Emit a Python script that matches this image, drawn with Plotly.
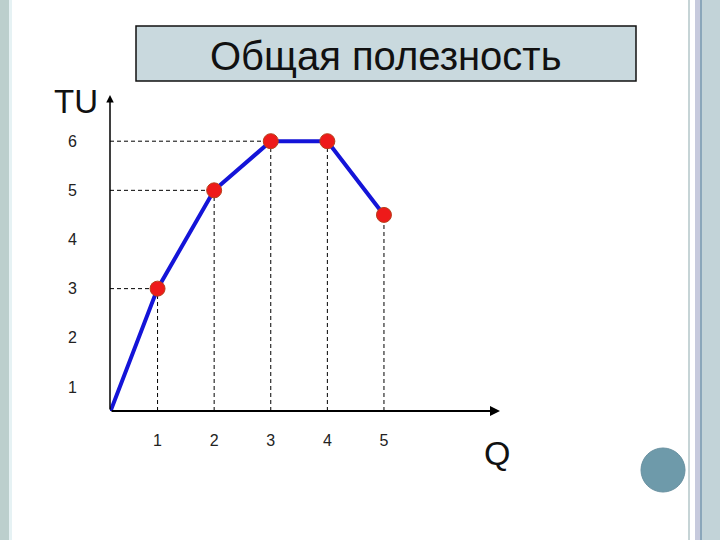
import plotly.graph_objects as go

# Data
quantity = [0, 1, 2, 3, 4, 5]
total_utility = [0, 3, 5, 6, 6, 4.5]
x_ticks = [1, 2, 3, 4, 5]
y_ticks = [1, 2, 3, 4, 5, 6]
guide_h_idx = [1, 2, 3]          # points with horizontal dashed guides
guide_v_idx = [1, 2, 3, 4, 5]    # points with vertical dashed guides
title_text = "Общая полезность"

W, H = 720, 540
L, R, T, B = 110, 500, 95, 411   # plot area in pixels
X_RANGE = [0.16, 7.05]
Y_RANGE = [0.51, 6.94]

def px(xp):
    return (xp - L) / (R - L)

def py(yp):
    return (B - yp) / (B - T)

FONT = "Arial, Liberation Sans, sans-serif"

fig = go.Figure()

# dashed guide lines
for i in guide_h_idx:
    fig.add_trace(go.Scatter(x=[X_RANGE[0], quantity[i]], y=[total_utility[i]] * 2,
                             mode="lines", line=dict(color="black", width=1, dash="4px,3px"),
                             hoverinfo="skip", showlegend=False))
for i in guide_v_idx:
    fig.add_trace(go.Scatter(x=[quantity[i]] * 2, y=[Y_RANGE[0], total_utility[i]],
                             mode="lines", line=dict(color="black", width=1, dash="4px,3px"),
                             hoverinfo="skip", showlegend=False))

# main line
fig.add_trace(go.Scatter(x=quantity, y=total_utility, mode="lines",
                         line=dict(color="#1414d8", width=4), showlegend=False))
# markers
fig.add_trace(go.Scatter(x=quantity[1:], y=total_utility[1:], mode="markers",
                         marker=dict(size=15, color="#ee1a1a",
                                     line=dict(color="#b8401a", width=1)),
                         cliponaxis=False, showlegend=False))

shapes = []
# title box
shapes.append(dict(type="rect", xref="paper", yref="paper",
                   x0=px(136), x1=px(636), y0=py(81), y1=py(26),
                   fillcolor="#c9d9de", line=dict(color="#111", width=1.5), layer="below"))
# left border stripes
shapes.append(dict(type="rect", xref="paper", yref="paper", x0=px(0), x1=px(9), y0=py(540), y1=py(0),
                   fillcolor="#bccfcd", line=dict(width=0), layer="below"))
shapes.append(dict(type="rect", xref="paper", yref="paper", x0=px(9), x1=px(12), y0=py(540), y1=py(0),
                   fillcolor="#e6f2f4", line=dict(width=0), layer="below"))
# right border stripes
for x0, x1, c in [(688, 690, "#c6d4d6"), (695, 700, "#c7cadd"), (700, 702, "#8aa6ba"), (702, 720, "#c2d3d8")]:
    shapes.append(dict(type="rect", xref="paper", yref="paper", x0=px(x0), x1=px(x1),
                       y0=py(540), y1=py(0), fillcolor=c, line=dict(width=0), layer="below"))
# bottom-right circle
shapes.append(dict(type="circle", xref="paper", yref="paper",
                   x0=px(641), x1=px(685), y0=py(492), y1=py(448),
                   fillcolor="#6e9aaa", line=dict(color="#6890a0", width=1)))

annotations = [
    dict(text=title_text, xref="paper", yref="paper", x=px(386), y=py(56),
         showarrow=False, font=dict(family=FONT, size=40, color="#111"), xanchor="center", yanchor="middle"),
    dict(text="TU", xref="paper", yref="paper", x=px(76), y=py(101),
         showarrow=False, font=dict(family=FONT, size=33, color="#111"), xanchor="center", yanchor="middle"),
    dict(text="Q", xref="paper", yref="paper", x=px(497), y=py(453),
         showarrow=False, font=dict(family=FONT, size=34, color="#111"), xanchor="center", yanchor="middle"),
    # axis arrows
    dict(xref="paper", yref="paper", x=0, y=1, ax=0, ay=B - T, text="", showarrow=True,
         arrowhead=2, arrowsize=1, arrowwidth=1.5, arrowcolor="black"),
    dict(xref="paper", yref="paper", x=1, y=0, ax=-(R - L), ay=0, text="", showarrow=True,
         arrowhead=2, arrowsize=1, arrowwidth=2, arrowcolor="black"),
]

fig.update_layout(
    width=W, height=H,
    margin=dict(l=L, r=W - R, t=T, b=H - B),
    paper_bgcolor="white", plot_bgcolor="white",
    shapes=shapes, annotations=annotations,
    xaxis=dict(range=X_RANGE, tickvals=x_ticks, ticktext=[str(v) for v in x_ticks],
               showgrid=False, zeroline=False, showline=False, ticks="",
               ticklabelstandoff=18, tickfont=dict(family=FONT, size=16, color="#222")),
    yaxis=dict(range=Y_RANGE, tickvals=y_ticks, ticktext=[str(v) for v in y_ticks],
               showgrid=False, zeroline=False, showline=False, ticks="",
               ticklabelstandoff=32, tickfont=dict(family=FONT, size=16, color="#222")),
    showlegend=False,
)

fig.write_html("out.html", config={"displayModeBar": False},
               post_script="document.body.style.margin='0';document.body.style.overflow='hidden';")
